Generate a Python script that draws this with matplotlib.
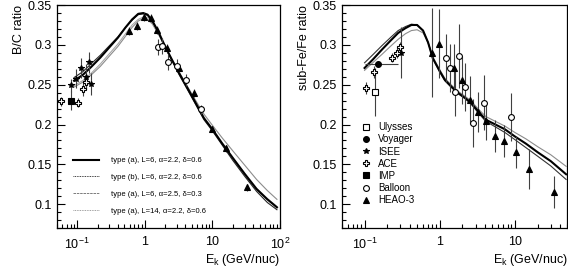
import numpy as np
import matplotlib.pyplot as plt
from matplotlib.lines import Line2D
from matplotlib import ticker

plt.rcParams['font.family'] = ['Liberation Sans', 'DejaVu Sans']
plt.rcParams['mathtext.fontset'] = 'custom'
plt.rcParams['mathtext.rm'] = 'Liberation Sans'
plt.rcParams['mathtext.it'] = 'Liberation Sans:italic'

# ---------------- B/C (left panel) ----------------
E_bc = [0.09, 0.12, 0.16, 0.22, 0.3, 0.4, 0.52, 0.65, 0.8, 0.95, 1.1, 1.3, 1.6,
        2.0, 2.5, 3.2, 4.2, 5.5, 7.5, 10, 14, 20, 30, 45, 65, 90]
bc_a = [0.255, 0.262, 0.272, 0.284, 0.297, 0.309, 0.322, 0.332, 0.339, 0.340, 0.338, 0.330, 0.316,
        0.298, 0.282, 0.265, 0.247, 0.229, 0.208, 0.194, 0.176, 0.158, 0.138, 0.119, 0.106, 0.096]
bc_b = [0.259, 0.266, 0.276, 0.287, 0.299, 0.310, 0.322, 0.331, 0.338, 0.339, 0.337, 0.329, 0.315,
        0.297, 0.281, 0.263, 0.245, 0.227, 0.206, 0.192, 0.174, 0.155, 0.135, 0.116, 0.102, 0.093]
bc_c = [0.247, 0.253, 0.262, 0.273, 0.286, 0.298, 0.311, 0.322, 0.330, 0.333, 0.332, 0.326, 0.313,
        0.297, 0.282, 0.266, 0.249, 0.232, 0.213, 0.199, 0.183, 0.167, 0.149, 0.131, 0.117, 0.106]
bc_d = [0.249, 0.255, 0.264, 0.276, 0.289, 0.301, 0.314, 0.325, 0.332, 0.335, 0.334, 0.327, 0.314,
        0.297, 0.281, 0.264, 0.246, 0.228, 0.208, 0.194, 0.177, 0.159, 0.139, 0.120, 0.107, 0.097]

bc_ace_E = [0.058, 0.104, 0.123, 0.137]
bc_ace = [0.229, 0.2275, 0.244, 0.254]
bc_ace_err = [0.006, 0.006, 0.008, 0.01]
bc_imp_E = [0.081]
bc_imp = [0.230]
bc_imp_err = [0.012]
bc_isee_E = [0.081, 0.096, 0.115, 0.137, 0.15, 0.162]
bc_isee = [0.249, 0.2575, 0.271, 0.260, 0.278, 0.251]
bc_isee_err = [0.008, 0.012, 0.012, 0.016, 0.013, 0.014]
bc_heao_E = [0.58, 0.76, 0.97, 1.23, 1.5, 2.1, 3.2, 5.4, 10, 16, 33]
bc_heao = [0.318, 0.324, 0.335, 0.334, 0.319, 0.296, 0.271, 0.240, 0.194, 0.170, 0.121]
bc_heao_err = [0.005, 0.005, 0.005, 0.005, 0.005, 0.005, 0.005, 0.005, 0.004, 0.004, 0.004]
bc_bal_E = [1.56, 1.8, 2.2, 3.0, 4.1, 6.8]
bc_bal = [0.2975, 0.299, 0.279, 0.274, 0.256, 0.219]
bc_bal_err = [0.01, 0.01, 0.01, 0.008, 0.008, 0.006]

# ---------------- sub-Fe/Fe (right panel) ----------------
E_fe = [0.1, 0.13, 0.17, 0.22, 0.28, 0.35, 0.42, 0.5, 0.6, 0.7, 0.81, 1.0, 1.17,
        1.45, 1.74, 2.2, 2.59, 3.3, 4.1, 5.5, 7.36, 10, 14, 20.2, 30, 48]
fe_a = [0.271, 0.282, 0.294, 0.305, 0.315, 0.321, 0.325, 0.325, 0.318, 0.303, 0.283, 0.267, 0.256,
        0.247, 0.240, 0.233, 0.2275, 0.216, 0.206, 0.200, 0.194, 0.185, 0.176, 0.165, 0.154, 0.1375]
fe_b = [0.2775, 0.288, 0.299, 0.309, 0.318, 0.323, 0.326, 0.325, 0.318, 0.303, 0.283, 0.266, 0.255,
        0.246, 0.239, 0.232, 0.226, 0.214, 0.204, 0.197, 0.190, 0.181, 0.171, 0.160, 0.148, 0.131]
fe_c = [0.268, 0.278, 0.288, 0.298, 0.307, 0.314, 0.318, 0.319, 0.315, 0.303, 0.285, 0.269, 0.258,
        0.249, 0.242, 0.235, 0.230, 0.219, 0.210, 0.204, 0.198, 0.190, 0.182, 0.172, 0.162, 0.1475]

fe_uly_E = [0.136]
fe_uly = [0.241]
fe_uly_err = [0.03]
fe_voy_E = [0.149]
fe_voy = [0.276]
fe_voy_xerr = [[0.049], [0.13]]
fe_isee_E = [0.31]
fe_isee = [0.29]
fe_isee_err = [0.032]
fe_ace_E = [0.106, 0.132, 0.23, 0.27, 0.30]
fe_ace = [0.246, 0.266, 0.284, 0.29, 0.2975]
fe_ace_err = [0.008, 0.008, 0.006, 0.006, 0.006]
fe_bal_E = [1.2, 1.36, 1.58, 1.8, 2.15, 2.75, 3.9, 8.9]
fe_bal = [0.284, 0.271, 0.241, 0.286, 0.2475, 0.2015, 0.2275, 0.209]
fe_bal_err = [0.03, 0.03, 0.03, 0.04, 0.03, 0.03, 0.035, 0.03]
fe_heao_E = [0.78, 0.97, 1.54, 1.96, 2.5, 3.2, 4.1, 5.4, 7.1, 10.3, 15.4, 33]
fe_heao = [0.29, 0.3015, 0.271, 0.256, 0.231, 0.216, 0.205, 0.186, 0.179, 0.166, 0.144, 0.115]
fe_heao_err = [0.056, 0.043, 0.03, 0.03, 0.03, 0.025, 0.025, 0.02, 0.02, 0.02, 0.025, 0.02]

ms = 4.2


def style_axes(ax, xmax, xlabels):
    ax.set_xscale('log')
    ax.set_xlim(0.05, xmax)
    ax.set_ylim(0.07, 0.35)
    ax.xaxis.set_major_locator(ticker.FixedLocator([0.1, 1, 10, 100]))
    ax.xaxis.set_major_formatter(ticker.FixedFormatter(xlabels))
    ax.xaxis.set_minor_locator(ticker.LogLocator(base=10, subs=np.arange(2, 10), numticks=20))
    ax.xaxis.set_minor_formatter(ticker.NullFormatter())
    ax.yaxis.set_major_locator(ticker.FixedLocator([0.1, 0.15, 0.2, 0.25, 0.3, 0.35]))
    ax.yaxis.set_major_formatter(ticker.FixedFormatter(['0.1', '0.15', '0.2', '0.25', '0.3', '0.35']))
    ax.yaxis.set_minor_locator(ticker.MultipleLocator(0.01))
    ax.tick_params(which='both', direction='in', top=False, right=False, labelsize=9)
    ax.tick_params(which='major', length=6, width=0.8)
    ax.tick_params(which='minor', length=3, width=0.8)
    ax.tick_params(axis='x', pad=6)
    for s in ax.spines.values():
        s.set_linewidth(0.9)
    ax.set_xlabel(r'$\mathregular{E_k}$ (GeV/nuc)', loc='right', fontsize=9, labelpad=0)


def data(ax, E, y, yerr=None, xerr=None, **kw):
    ax.errorbar(E, y, yerr=yerr, xerr=xerr, fmt='none', ecolor='0.25', elinewidth=0.8, capsize=0, zorder=2)
    ax.plot(E, y, linestyle='none', markersize=ms, markeredgecolor='black', markeredgewidth=0.8, zorder=3, **kw)


fig = plt.figure(figsize=(5.68, 2.67), dpi=100)
ax1 = fig.add_axes([0.100, 0.146, 0.393, 0.835])
ax2 = fig.add_axes([0.602, 0.146, 0.397, 0.835])

# left panel
ax1.plot(E_bc, bc_c, color='0.55', lw=0.8, zorder=1)
ax1.plot(E_bc, bc_d, color='0.65', lw=0.8, zorder=1)
ax1.plot(E_bc, bc_b, color='0.15', lw=0.8, zorder=1)
ax1.plot(E_bc, bc_a, color='black', lw=1.5, zorder=1)
data(ax1, bc_ace_E, bc_ace, bc_ace_err, marker='P', markerfacecolor='white')
data(ax1, bc_imp_E, bc_imp, bc_imp_err, marker='s', markerfacecolor='black')
data(ax1, bc_isee_E, bc_isee, bc_isee_err, marker='*', markerfacecolor='black')
data(ax1, bc_heao_E, bc_heao, bc_heao_err, marker='^', markerfacecolor='black')
data(ax1, bc_bal_E, bc_bal, bc_bal_err, marker='o', markerfacecolor='white')
style_axes(ax1, 100, [r'$\mathregular{10^{-1}}$', '1', '10', r'$\mathregular{10^{2}}$'])
ax1.set_ylabel('B/C ratio', loc='top', fontsize=9, labelpad=2)

leg_lines = [
    Line2D([], [], color='black', lw=1.5),
    Line2D([], [], color='black', lw=0.6, linestyle=(0, (1, 1))),
    Line2D([], [], color='0.4', lw=0.6, linestyle=(0, (3, 1))),
    Line2D([], [], color='0.5', lw=0.6, linestyle=(0, (1, 1))),
]
leg_text = ['type (a), L=6, α=2.2, δ=0.6',
            'type (b), L=6, α=2.2, δ=0.6',
            'type (a), L=6, α=2.5, δ=0.3',
            'type (a), L=14, α=2.2, δ=0.6']
ax1.legend(leg_lines, leg_text, loc='lower left', bbox_to_anchor=(0.06, 0.045), frameon=False,
           fontsize=5.5, handlelength=3.4, handletextpad=1.5, labelspacing=1.25, borderaxespad=0)

# right panel
ax2.plot(E_fe, fe_c, color='0.55', lw=0.8, zorder=1)
ax2.plot(E_fe, fe_b, color='0.2', lw=0.8, zorder=1)
ax2.plot(E_fe, fe_a, color='black', lw=1.5, zorder=1)
data(ax2, fe_uly_E, fe_uly, fe_uly_err, marker='s', markerfacecolor='white')
data(ax2, fe_voy_E, fe_voy, None, fe_voy_xerr, marker='o', markerfacecolor='black')
data(ax2, fe_isee_E, fe_isee, fe_isee_err, marker='*', markerfacecolor='black')
data(ax2, fe_ace_E, fe_ace, fe_ace_err, marker='P', markerfacecolor='white')
data(ax2, fe_bal_E, fe_bal, fe_bal_err, marker='o', markerfacecolor='white')
data(ax2, fe_heao_E, fe_heao, fe_heao_err, marker='^', markerfacecolor='black')
style_axes(ax2, 50, [r'$\mathregular{10^{-1}}$', '1', '10', ''])
ax2.set_ylabel('sub-Fe/Fe ratio', loc='top', fontsize=9, labelpad=2)

names = ['Ulysses', 'Voyager', 'ISEE', 'ACE', 'IMP', 'Balloon', 'HEAO-3']
mk = [('s', 'white'), ('o', 'black'), ('*', 'black'), ('P', 'white'),
      ('s', 'black'), ('o', 'white'), ('^', 'black')]
handles = [Line2D([], [], linestyle='none', marker=m, markerfacecolor=f, markeredgecolor='black',
                  markersize=ms, markeredgewidth=0.8) for m, f in mk]
ax2.legend(handles, names, loc='lower left', bbox_to_anchor=(0.07, 0.085), frameon=False,
           fontsize=7, handlelength=1.0, handletextpad=0.7, labelspacing=0.22, borderaxespad=0)

fig.savefig('out.png', dpi=100)
